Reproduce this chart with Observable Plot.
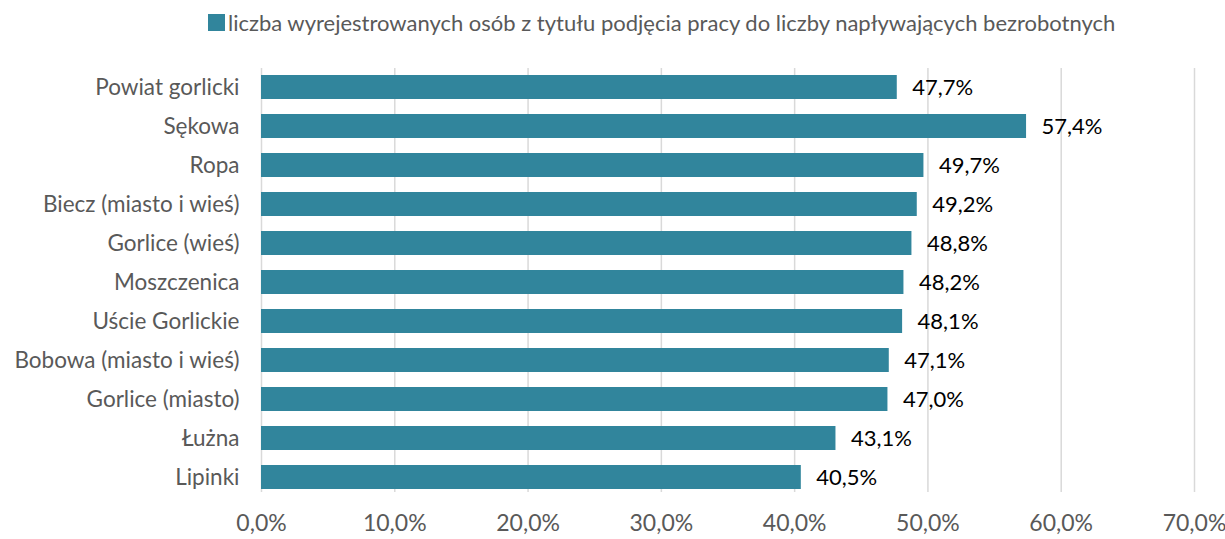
<!DOCTYPE html>
<html>
<head>
<meta charset="utf-8">
<script src="https://cdn.jsdelivr.net/npm/d3@7"></script>
<script src="https://cdn.jsdelivr.net/npm/@observablehq/plot@0.6"></script>
<style>
  body { margin: 0; background: #fff; font-family: Lato, "Open Sans", sans-serif; }
  #wrap { position: relative; width: 1225px; height: 539px; }
  #legend { position: absolute; left: 208px; top: 8px; height: 28px; display: flex; align-items: center; font-size: 22px; color: #595959; white-space: nowrap; }
  #legend .sw { width: 17px; height: 17px; background: #31859C; margin-right: 3px; }
  #chart { position: absolute; left: 0; top: 45px; }
</style>
</head>
<body>
<div id="wrap">
  <div id="legend"><span class="sw"></span><span>liczba wyrejestrowanych osób z tytułu podjęcia pracy do liczby napływających bezrobotnych</span></div>
  <div id="chart"></div>
</div>
<script>
const categories = ["Powiat gorlicki", "Sękowa", "Ropa", "Biecz (miasto i wieś)", "Gorlice (wieś)", "Moszczenica", "Uście Gorlickie", "Bobowa (miasto i wieś)", "Gorlice (miasto)", "Łużna", "Lipinki"];
const values = [47.7, 57.4, 49.7, 49.2, 48.8, 48.2, 48.1, 47.1, 47.0, 43.1, 40.5];
const xTicks = [0, 10, 20, 30, 40, 50, 60, 70];

const data = categories.map((c, i) => ({ name: c, value: values[i] }));
const fmt = v => v.toFixed(1).replace(".", ",") + "%";

const chart = Plot.plot({
  width: 1225,
  height: 494,
  marginLeft: 261,
  marginRight: 31,
  marginTop: 29,
  marginBottom: 50,
  style: { fontFamily: "Lato, 'Open Sans', sans-serif", fontSize: "22px", background: "#fff" },
  x: { domain: [0, 70], ticks: xTicks, tickFormat: fmt, label: null },
  y: { domain: categories, paddingInner: 0.39, paddingOuter: 0, label: null },
  marks: [
    Plot.ruleX(xTicks, { stroke: "#d9d9d9", strokeWidth: 1.5, insetTop: -6, insetBottom: -3 }),
    Plot.barX(data, { x: "value", y: "name", fill: "#31859C" }),
    Plot.text(data, { x: "value", y: "name", text: d => fmt(d.value), textAnchor: "start", dx: 15, fill: "#000", fontSize: 22 }),
    Plot.axisX(xTicks, { tickSize: 0, tickPadding: 25, tickFormat: fmt, color: "#595959", fontSize: 23, label: null }),
    Plot.axisY(categories, { tickSize: 0, tickPadding: 22, color: "#595959", fontSize: 22.5, label: null })
  ]
});
document.getElementById("chart").appendChild(chart);
</script>
</body>
</html>
